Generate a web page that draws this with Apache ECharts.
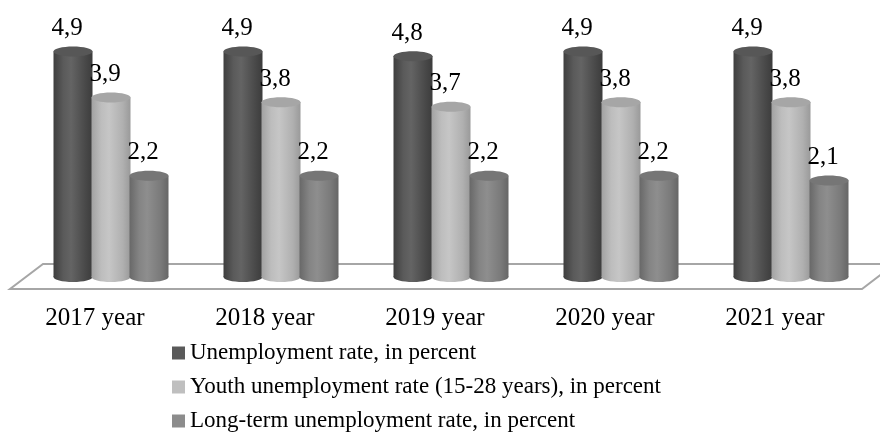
<!DOCTYPE html>
<html>
<head>
<meta charset="utf-8">
<script src="https://cdn.jsdelivr.net/npm/echarts@6/dist/echarts.min.js"></script>
<style>
html,body{margin:0;padding:0;background:#fff;}
#chart{width:880px;height:441px;}
</style>
</head>
<body>
<div id="chart"></div>
<script>
// ---- data ----
const categories = ['2017 year', '2018 year', '2019 year', '2020 year', '2021 year'];
const seriesNames = [
  'Unemployment rate, in percent',
  'Youth unemployment rate (15-28 years), in percent',
  'Long-term unemployment rate, in percent'
];
const unemployment = [4.9, 4.9, 4.8, 4.9, 4.9];
const youthUnemployment = [3.9, 3.8, 3.7, 3.8, 3.8];
const longTermUnemployment = [2.2, 2.2, 2.2, 2.2, 2.1];

// ---- style ----
const FONT = "'Liberation Serif', 'Times New Roman', serif";
const DEPTH_X = 16, DEPTH_Y = 12;     // cylinder offset into the floor
const BAR_W = 39, BAR_STEP = 38, RY = 5;
const palettes = [
  { legend: '#5a5a5a', top: '#575757', stops: ['#3e3e3e', '#5a5a5a', '#646464', '#4a4a4a', '#3c3c3c'] },
  { legend: '#bfbfbf', top: '#a6a6a6', stops: ['#a2a2a2', '#bdbdbd', '#c6c6c6', '#b0b0b0', '#9a9a9a'] },
  { legend: '#8c8c8c', top: '#767676', stops: ['#686868', '#848484', '#8e8e8e', '#7a7a7a', '#666666'] }
];

function grad(stops) {
  return {
    type: 'linear', x: 0, y: 0, x2: 1, y2: 0,
    colorStops: [
      { offset: 0, color: stops[0] },
      { offset: 0.25, color: stops[1] },
      { offset: 0.45, color: stops[2] },
      { offset: 0.8, color: stops[3] },
      { offset: 1, color: stops[4] }
    ]
  };
}

function fmt(v) { return String(v.toFixed(1)).replace('.', ','); }

function makeRender(si) {
  const p = palettes[si];
  return function (params, api) {
    const cat = api.value(0), v = api.value(1);
    const base = api.coord([cat, 0]);
    const top = api.coord([cat, v]);
    const cx = base[0] + DEPTH_X + (si - 1) * BAR_STEP;
    const yb = base[1] - DEPTH_Y;
    const yt = top[1] - DEPTH_Y;
    const body = grad(p.stops);
    return {
      type: 'group',
      children: [
        { type: 'ellipse', shape: { cx: cx, cy: yb, rx: BAR_W / 2, ry: RY }, style: { fill: body } },
        { type: 'rect', shape: { x: cx - BAR_W / 2, y: yt, width: BAR_W, height: yb - yt }, style: { fill: body } },
        { type: 'ellipse', shape: { cx: cx, cy: yt, rx: BAR_W / 2, ry: RY }, style: { fill: p.top } },
        { type: 'text', z2: 100, style: {
            x: cx - 6, y: yt - 23, text: fmt(v), fill: '#000',
            font: '25px ' + FONT, textAlign: 'center', textVerticalAlign: 'middle'
          } }
      ]
    };
  };
}

const allValues = [unemployment, youthUnemployment, longTermUnemployment];

const chart = echarts.init(document.getElementById('chart'), null, { renderer: 'canvas' });
const option = {
  animation: false,
  backgroundColor: '#ffffff',
  grid: { left: 10, right: 20, top: 59, bottom: 152, containLabel: false },
  legend: {
    orient: 'vertical', left: 172, top: 341, padding: 0,
    itemWidth: 13, itemHeight: 13, itemGap: 10, icon: 'rect',
    textStyle: { fontFamily: FONT, fontSize: 23, color: '#000', lineHeight: 24 },
    data: seriesNames
  },
  xAxis: {
    type: 'category', data: categories,
    axisLine: { show: false }, axisTick: { show: false },
    axisLabel: { fontFamily: FONT, fontSize: 25, color: '#000', margin: 17, interval: 0 }
  },
  yAxis: { type: 'value', min: 0, max: 5, show: false, splitLine: { show: false } },
  series: allValues.map((vals, si) => ({
    type: 'custom',
    name: seriesNames[si],
    itemStyle: { color: palettes[si].legend },
    renderItem: makeRender(si),
    encode: { x: 0, y: 1 },
    data: vals.map((v, i) => [i, v]),
    z: 3 + si
  }))
};
chart.setOption(option);

// perspective floor built from the axis scales
const c0 = chart.convertToPixel({ xAxisIndex: 0 }, 0);
const c1 = chart.convertToPixel({ xAxisIndex: 0 }, 1);
const cN = chart.convertToPixel({ xAxisIndex: 0 }, categories.length - 1);
const y0 = chart.convertToPixel({ yAxisIndex: 0 }, 0);
const half = (c1 - c0) / 2;
const L = c0 - half, R = cN + half;
chart.setOption({
  graphic: [{
    type: 'polygon', z: 1,
    shape: { points: [[L, y0], [R + 2, y0], [R + 35, y0 - 25], [L + 33, y0 - 25]] },
    style: { fill: '#ffffff', stroke: '#a6a6a6', lineWidth: 2 }
  }]
});
</script>
</body>
</html>
